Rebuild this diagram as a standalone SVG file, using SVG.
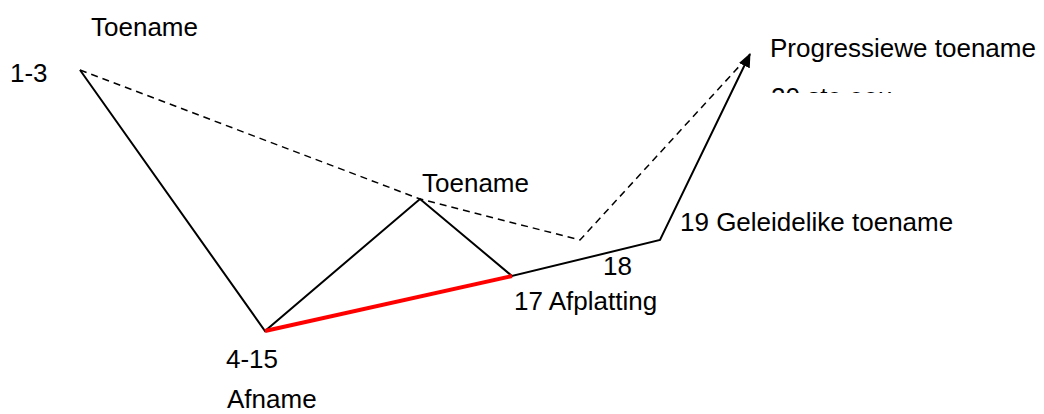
<svg xmlns="http://www.w3.org/2000/svg" width="1044" height="414" viewBox="0 0 1044 414">
<style>
text{font-family:"Liberation Sans",Arial,sans-serif;font-size:26px;fill:#000}
.ln{fill:none;stroke:#000;stroke-width:2}
.ds{fill:none;stroke:#000;stroke-width:1.5;stroke-dasharray:7,5}
</style>
<defs>
<marker id="ah" markerWidth="14" markerHeight="12" refX="13" refY="6" orient="auto" markerUnits="userSpaceOnUse"><path d="M0,0 L14,6 L0,12 z" fill="#000"/></marker>
<clipPath id="cl"><rect x="760" y="70" width="284" height="23"/></clipPath>
</defs>
<g id="connectors">
<polyline class="ds" points="80,70 420,199 580,240 745,60"/>
<polyline class="ln" points="80,70 265,331 420,199 512,276 660,240 750,54" marker-end="url(#ah)"/>
<line x1="265" y1="331" x2="512" y2="276" stroke="#f00" stroke-width="4"/>
</g>
<g id="labels">
<text x="91" y="36">Toename</text>
<text x="10" y="82">1-3</text>
<text x="422" y="192">Toename</text>
<text x="603" y="275">18</text>
<text x="514" y="310">17 Afplatting</text>
<text x="680" y="231">19 Geleidelike toename</text>
<text x="770" y="57">Progressiewe toename</text>
<text x="771" y="106" clip-path="url(#cl)">20 ste eeu</text>
<text x="226" y="368">4-15</text>
<text x="227" y="408">Afname</text>
</g>
</svg>
